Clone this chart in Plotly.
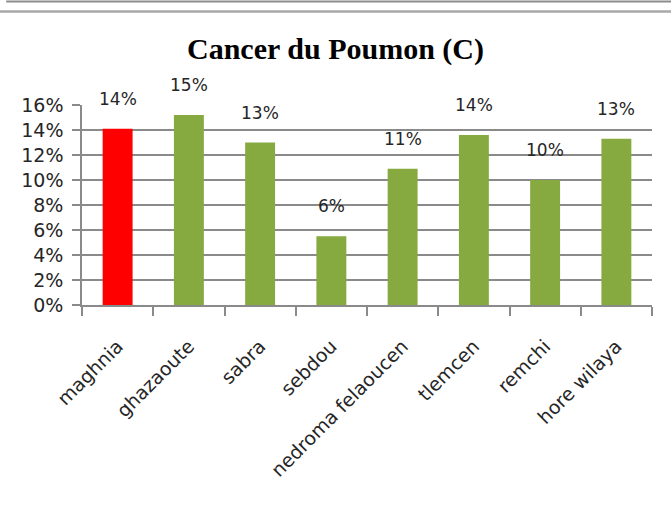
import plotly.graph_objects as go

# ── Data ──────────────────────────────────────────────────────────────────────
communes = ['maghnia', 'ghazaoute', 'sabra', 'sebdou',
            'nedroma felaoucen', 'tlemcen', 'remchi', 'hore wilaya']
taux = [0.141, 0.152, 0.130, 0.055, 0.109, 0.136, 0.100, 0.133]
etiquettes = ['14%', '15%', '13%', '6%', '11%', '14%', '10%', '13%']

# ── Style ─────────────────────────────────────────────────────────────────────
RED = '#ff0000'
GREEN = '#86a940'
GRID = '#8a8a8a'
TXT = '#262626'
FONT = 'DejaVu Sans'

bar_colors = [RED] + [GREEN] * (len(communes) - 1)

fig = go.Figure(go.Bar(
    x=communes, y=taux,
    marker=dict(color=bar_colors, line=dict(width=0)),
    hoverinfo='x+y',
))

for c, v, t in zip(communes, taux, etiquettes):
    fig.add_annotation(x=c, y=v, text=t, showarrow=False, yshift=30,
                       font=dict(family=FONT, size=17, color=TXT))

# frame lines at the top of the picture (plot area spans px 105..305 vertically)
def py(px):
    return (305 - px) / 200

fig.add_shape(type='line', xref='paper', yref='paper',
              x0=-0.133, x1=1.04, y0=py(1.5), y1=py(1.5),
              line=dict(color='#8c8c8c', width=2))
fig.add_shape(type='line', xref='paper', yref='paper',
              x0=-0.15, x1=1.04, y0=py(11.5), y1=py(11.5),
              line=dict(color='#a8a8a8', width=2.5))

fig.update_layout(
    width=671, height=518,
    margin=dict(l=82, r=19, t=105, b=213),
    paper_bgcolor='white', plot_bgcolor='white',
    bargap=0.58,
    showlegend=False,
    title=dict(text='<b>Cancer du Poumon (C)</b>', x=0.5, xanchor='center',
               y=1 - 48 / 518, yanchor='middle',
               font=dict(family='Liberation Serif', size=30, color='black')),
    font=dict(family=FONT, color=TXT),
)

fig.update_yaxes(
    range=[0, 0.16], dtick=0.02, tickformat='.0%',
    showgrid=True, gridcolor=GRID, gridwidth=1.5,
    showline=True, linecolor=GRID, linewidth=1.5,
    ticks='outside', ticklen=8, tickcolor=GRID, tickwidth=1.5,
    tickfont=dict(family=FONT, size=19, color=TXT),
    ticklabelstandoff=5,
    zeroline=False,
)
fig.update_xaxes(
    type='category', tickangle=-45,
    showline=True, linecolor=GRID, linewidth=1.5,
    ticks='outside', tickson='boundaries', ticklen=9,
    tickcolor=GRID, tickwidth=1.5,
    tickfont=dict(family=FONT, size=19, color=TXT),
    ticklabelstandoff=21,
    automargin=False,
)

# drop the browser's default body margin so the figure sits at the page corner
fig.write_html('out.html', config={'displayModeBar': False},
               post_script="document.body.style.margin='0';")
